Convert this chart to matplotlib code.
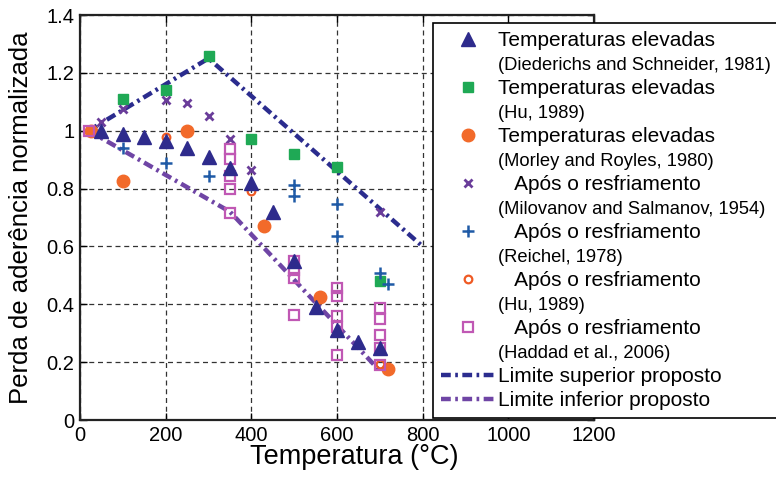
import matplotlib.pyplot as plt
from matplotlib.lines import Line2D

plt.rcParams['font.family'] = ['Liberation Sans', 'DejaVu Sans']

# Temperatura (°C) e aderência normalizada de cada série
diederichs_t = [50, 100, 150, 200, 250, 300, 350, 400, 450, 500, 550, 600, 650, 700]
diederichs_v = [1.0, 0.99, 0.98, 0.965, 0.94, 0.91, 0.87, 0.82, 0.72, 0.55, 0.39, 0.31, 0.27, 0.25]

hu_quente_t = [100, 200, 300, 400, 500, 600, 700]
hu_quente_v = [1.11, 1.14, 1.26, 0.97, 0.92, 0.875, 0.48]

morley_t = [25, 100, 250, 430, 560, 720]
morley_v = [1.0, 0.826, 1.0, 0.67, 0.425, 0.176]

milovanov_t = [50, 100, 200, 250, 300, 350, 400, 700]
milovanov_v = [1.03, 1.075, 1.105, 1.095, 1.05, 0.97, 0.865, 0.72]

reichel_t = [100, 200, 300, 500, 500, 600, 600, 700, 720]
reichel_v = [0.94, 0.89, 0.845, 0.814, 0.776, 0.748, 0.635, 0.507, 0.47]

hu_frio_t = [200, 400, 700]
hu_frio_v = [0.98, 0.79, 0.195]

haddad_t = [20, 350, 350, 350, 350, 350, 500, 500, 500, 500,
            600, 600, 600, 600, 600, 700, 700, 700, 700, 700]
haddad_v = [1.0, 0.937, 0.903, 0.845, 0.80, 0.717, 0.55, 0.517, 0.49, 0.362,
            0.455, 0.43, 0.36, 0.32, 0.224, 0.386, 0.348, 0.293, 0.25, 0.19]

lim_sup_t = [20, 300, 800]
lim_sup_v = [1.0, 1.25, 0.6]
lim_inf_t = [20, 350, 700]
lim_inf_v = [1.0, 0.72, 0.17]

legend_labels = [
    'Temperaturas elevadas', '(Diederichs and Schneider, 1981)',
    'Temperaturas elevadas', '(Hu, 1989)',
    'Temperaturas elevadas', '(Morley and Royles, 1980)',
    '   Após o resfriamento', '(Milovanov and Salmanov, 1954)',
    '   Após o resfriamento', '(Reichel, 1978)',
    '   Após o resfriamento', '(Hu, 1989)',
    '   Após o resfriamento', '(Haddad et al., 2006)',
    'Limite superior proposto', 'Limite inferior proposto',
]

fig = plt.figure(figsize=(7.76, 4.78), dpi=100)
ax = fig.add_axes([80 / 776, 1 - 420 / 478, 514 / 776, 405 / 478])

dash = (0, (2.2, 1.0, 0.6, 1.0))
l_sup, = ax.plot(lim_sup_t, lim_sup_v, color='#2b2c8e', lw=3.2, linestyle=dash, zorder=2)
l_inf, = ax.plot(lim_inf_t, lim_inf_v, color='#6f45a5', lw=3.2, linestyle=dash, zorder=2)

h_dd, = ax.plot(diederichs_t, diederichs_v, '^', color='#2e2b8c', ms=9.5, ls='none', zorder=4)
h_hq, = ax.plot(hu_quente_t, hu_quente_v, 's', color='#1fa955', ms=7.5, ls='none', zorder=3)
h_mr, = ax.plot(morley_t, morley_v, 'o', color='#f26a2a', ms=9, ls='none', zorder=3)
h_ml, = ax.plot(milovanov_t, milovanov_v, 'x', color='#6a3d9a', ms=6, mew=2, ls='none', zorder=3)
h_rc, = ax.plot(reichel_t, reichel_v, '+', color='#1f5aa6', ms=8, mew=1.8, ls='none', zorder=3)
h_hf, = ax.plot(hu_frio_t, hu_frio_v, 'o', mfc='none', mec='#ef5a24', ms=5.5, mew=1.6, ls='none', zorder=3)
h_hd, = ax.plot(haddad_t, haddad_v, 's', mfc='none', mec='#c058b4', ms=6.5, mew=1.6, ls='none', zorder=3)

ax.set_xlim(0, 1200)
ax.set_ylim(0, 1.4)
ax.set_xticks(range(0, 1201, 200))
ax.set_yticks([0, 0.2, 0.4, 0.6, 0.8, 1.0, 1.2, 1.4])
ax.set_yticklabels(['0', '0.2', '0.4', '0.6', '0.8', '1', '1.2', '1.4'])
ax.tick_params(direction='in', length=5, width=1, top=True, right=True,
               labelsize=14.5, pad=4)
ax.grid(True, color='#333333', linestyle=(0, (4, 3)), linewidth=0.9)
for sp in ax.spines.values():
    sp.set_linewidth(1.6)
    sp.set_color('#222222')

ax.set_xlabel('Temperatura (°C)', fontsize=19.5)
ax.xaxis.set_label_coords(0.533, -0.06, transform=ax.transAxes)
ax.xaxis.label.set_va('top')
ax.set_ylabel('Perda de aderência normalizada', fontsize=18.5)
ax.yaxis.set_label_coords(-0.092, 0.5)

blank = Line2D([], [], ls='none')
handles = [h_dd, blank, h_hq, blank, h_mr, blank, h_ml, blank,
           h_rc, blank, h_hf, blank, h_hd, blank, l_sup, l_inf]
leg = ax.legend(handles, legend_labels, loc='upper left',
                bbox_to_anchor=(433 / 776, 1 - 23 / 478), bbox_transform=fig.transFigure,
                borderaxespad=0, fontsize=15, labelspacing=0.25, borderpad=0.38,
                handlelength=2.6, handletextpad=0.12, fancybox=False, framealpha=1,
                edgecolor='black')
leg.get_frame().set_linewidth(1.2)
leg.set_zorder(10)
for i, txt in enumerate(leg.get_texts()):
    if i < 14 and i % 2 == 1:
        txt.set_fontsize(13.2)

fig.savefig('out.png', dpi=100)
